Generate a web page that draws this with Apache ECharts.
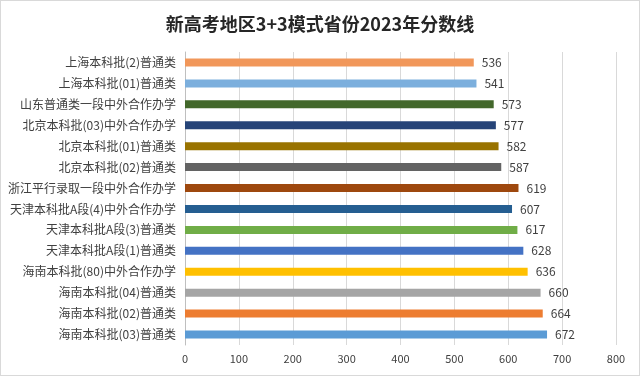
<!DOCTYPE html>
<html>
<head>
<meta charset="utf-8">
<script src="https://cdn.jsdelivr.net/npm/echarts@6/dist/echarts.min.js"></script>
<style>
  html, body { margin: 0; padding: 0; background: #fff; }
  #chart { width: 638px; height: 374px; border: 1px solid #d9d9d9; }
</style>
</head>
<body>
<div id="chart"></div>
<script>
// Categories listed top to bottom
const categories = [
  '上海本科批(2)普通类',
  '上海本科批(01)普通类',
  '山东普通类一段中外合作办学',
  '北京本科批(03)中外合作办学',
  '北京本科批(01)普通类',
  '北京本科批(02)普通类',
  '浙江平行录取一段中外合作办学',
  '天津本科批A段(4)中外合作办学',
  '天津本科批A段(3)普通类',
  '天津本科批A段(1)普通类',
  '海南本科批(80)中外合作办学',
  '海南本科批(04)普通类',
  '海南本科批(02)普通类',
  '海南本科批(03)普通类'
];
const scores = [536, 541, 573, 577, 582, 587, 619, 607, 617, 628, 636, 660, 664, 672];
const barColors = [
  '#F1975A', '#7CAFDD', '#43682B', '#264478', '#997300', '#636363', '#9E480E',
  '#255E91', '#70AD47', '#4472C4', '#FFC000', '#A5A5A5', '#ED7D31', '#5B9BD5'
];
const xTicks = [0, 100, 200, 300, 400, 500, 600, 700, 800];

const font = '"Noto Sans CJK SC", "Noto Sans", sans-serif';
const chart = echarts.init(document.getElementById('chart'));
chart.setOption({
  animation: false,
  textStyle: { fontFamily: font },
  title: {
    text: '新高考地区3+3模式省份2023年分数线',
    left: 'center',
    top: 9,
    textStyle: { fontFamily: font, fontSize: 18, fontWeight: 'bold', color: '#262626' }
  },
  grid: { left: 184, right: 23, top: 51, bottom: 30 },
  xAxis: {
    type: 'value',
    min: xTicks[0],
    max: xTicks[xTicks.length - 1],
    interval: 100,
    axisLine: { show: false },
    axisTick: { show: false },
    splitLine: { lineStyle: { color: '#d9d9d9', width: 1 } },
    axisLabel: { color: '#404040', fontSize: 11, margin: 8, fontFamily: font }
  },
  yAxis: {
    type: 'category',
    data: categories,
    inverse: true,
    axisLine: { lineStyle: { color: '#bfbfbf' } },
    axisTick: { show: false },
    axisLabel: { color: '#404040', fontSize: 12, margin: 9, fontFamily: font }
  },
  series: [{
    type: 'bar',
    data: scores.map((v, i) => ({ value: v, itemStyle: { color: barColors[i] } })),
    barWidth: 8,
    label: {
      show: true,
      position: 'right',
      distance: 8,
      color: '#404040',
      fontSize: 12,
      fontFamily: font
    }
  }]
});
</script>
</body>
</html>
